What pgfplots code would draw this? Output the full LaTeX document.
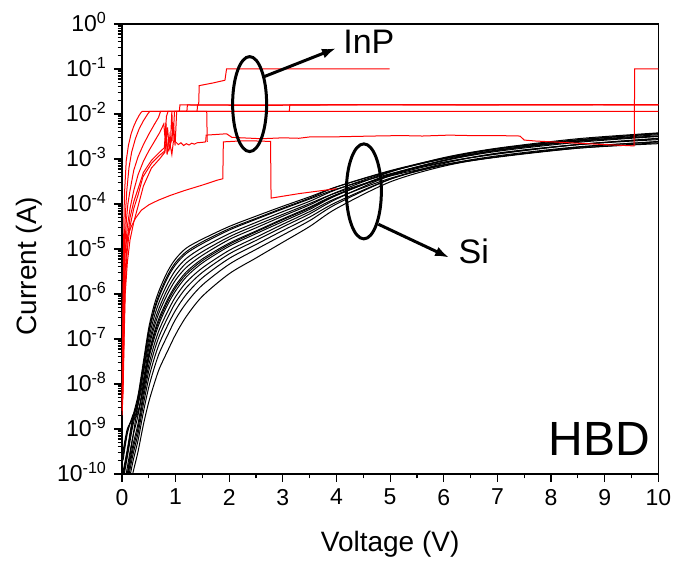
\documentclass[border=0pt]{standalone}
\usepackage{fontspec}
\setmainfont{Liberation Sans}
\usepackage{pgfplots}
\pgfplotsset{compat=1.18}
\usepackage{pgfplotstable}
\usetikzlibrary{arrows.meta}

% minor ticks of the log scale (y is log10 of the current)
\def\minorlist{}
\foreach \n in {-10,...,-1}{%
  \foreach \m in {0.30103,0.47712,0.60206,0.69897,0.77815,0.84510,0.90309,0.95424}{%
    \pgfmathsetmacro\v{\n+\m}%
    \ifx\minorlist\empty\xdef\minorlist{\v}\else\xdef\minorlist{\minorlist,\v}\fi
  }}

% Si diodes, log10(I/A)
\pgfplotstableread{
V    c1     c2     c3     c4     c5     c6     c7     c8     c9     c10    c11    c12    c13    c14
0.02 -9.95  -10.06 -10.16 -10.6  -9.7   -10.44 -9.6   -10.65 -10.76 -10.9  -11.07 -11.5  -10.02 -9.5
0.1  -9.45  -9.54  -9.62  -10.0  -9.1   -9.85  -9.05  -10.03 -10.12 -10.23 -10.37 -10.6  -9.51  -9.0
0.2  -8.75  -8.85  -8.94  -9.2   -8.7   -9.19  -8.75  -9.38  -9.48  -9.6   -9.75  -10.0  -8.81  -8.8
0.3  -8.25  -8.35  -8.44  -8.45  -8.45  -8.69  -8.6   -8.88  -8.98  -9.1   -9.25  -9.5   -8.31  -8.65
0.4  -7.5   -7.61  -7.71  -7.75  -7.9   -7.99  -8.1   -8.2   -8.31  -8.45  -8.62  -8.9   -7.57  -8.05
0.5  -6.75  -6.88  -7.0   -7.11  -7.21  -7.33  -7.44  -7.58  -7.71  -7.87  -8.07  -8.4   -6.83  -7.38
0.6  -6.25  -6.39  -6.51  -6.64  -6.74  -6.86  -6.99  -7.13  -7.27  -7.44  -7.65  -8.0   -6.34  -6.92
0.7  -5.9   -6.04  -6.16  -6.29  -6.39  -6.51  -6.64  -6.78  -6.92  -7.09  -7.3   -7.65  -5.99  -6.57
0.85 -5.5   -5.64  -5.77  -5.89  -6.0   -6.12  -6.24  -6.39  -6.53  -6.7   -6.92  -7.27  -5.59  -6.17
1.0  -5.22  -5.35  -5.47  -5.59  -5.69  -5.81  -5.93  -6.06  -6.19  -6.36  -6.56  -6.9   -5.30  -5.86
1.2  -4.98  -5.10  -5.21  -5.31  -5.41  -5.51  -5.62  -5.74  -5.86  -6.01  -6.2   -6.5   -5.06  -5.56
1.5  -4.78  -4.88  -4.97  -5.06  -5.14  -5.22  -5.31  -5.42  -5.52  -5.64  -5.8   -6.05  -4.84  -5.26
2.0  -4.5   -4.58  -4.66  -4.73  -4.79  -4.87  -4.94  -5.03  -5.11  -5.21  -5.34  -5.55  -4.55  -4.90
2.5  -4.27  -4.34  -4.41  -4.47  -4.53  -4.6   -4.66  -4.74  -4.81  -4.9   -5.01  -5.2   -4.32  -4.62
3.0  -4.05  -4.11  -4.17  -4.23  -4.27  -4.33  -4.39  -4.45  -4.51  -4.59  -4.69  -4.85  -4.09  -4.35
3.5  -3.84  -3.89  -3.94  -3.99  -4.02  -4.07  -4.12  -4.17  -4.22  -4.29  -4.37  -4.5   -3.87  -4.09
4.0  -3.62  -3.67  -3.68  -3.75  -3.74  -3.79  -3.81  -3.87  -3.89  -3.96  -4.0   -4.1   -3.62  -3.80
5    -3.27  -3.33  -3.28  -3.38  -3.29  -3.37  -3.35  -3.43  -3.37  -3.45  -3.45  -3.51  -3.26  -3.34
6    -3.0   -3.07  -2.99  -3.13  -2.97  -3.08  -3.04  -3.14  -3.03  -3.13  -3.10  -3.16  -2.98  -3.03
7    -2.81  -2.89  -2.78  -2.95  -2.76  -2.88  -2.83  -2.96  -2.80  -2.93  -2.87  -2.95  -2.77  -2.81
8.5  -2.6   -2.68  -2.58  -2.74  -2.55  -2.68  -2.63  -2.76  -2.60  -2.73  -2.68  -2.76  -2.57  -2.61
10   -2.46  -2.54  -2.44  -2.61  -2.42  -2.55  -2.50  -2.64  -2.49  -2.62  -2.57  -2.66  -2.43  -2.49
}\sidata

\begin{document}
\begin{tikzpicture}
\useasboundingbox (-61pt,-44pt) rectangle (275.55pt,237pt);
\begin{axis}[
  at={(0,0)}, anchor=south west,
  scale only axis, width=268.2pt, height=225pt,
  xmin=0, xmax=10, ymin=-10, ymax=0,
  xtick={0,...,10}, minor x tick num=1,
  ytick={-10,...,0},
  yticklabels={10\textsuperscript{-10},10\textsuperscript{-9},10\textsuperscript{-8},10\textsuperscript{-7},10\textsuperscript{-6},10\textsuperscript{-5},10\textsuperscript{-4},10\textsuperscript{-3},10\textsuperscript{-2},10\textsuperscript{-1},10\textsuperscript{0}},
  minor ytick/.expanded=\minorlist,
  tick pos=left, tick align=outside,
  major tick length=4pt, minor tick length=2.2pt,
  every tick/.style={black, line width=0.6pt},
  axis line style={line width=0.75pt},
  /pgf/number format/assume math mode=true,
  ticklabel style={font=\fontsize{11.5}{13}\selectfont},
  yticklabel style={anchor=base east, yshift=-4pt},
  xlabel={Voltage (V)}, ylabel={Current (A)},
  label style={font=\fontsize{14}{17}\selectfont},
  xlabel style={at={(axis description cs:0.5,0)}, anchor=base, yshift=-38.85pt},
  ylabel style={at={(axis description cs:-0.173,0.462)}, anchor=center},
  every axis plot/.append style={line width=0.5pt},
]
% Si curves
\foreach \c in {c1,c2,c3,c4,c5,c6,c7,c8,c9,c10,c11,c12,c13,c14}{
  \addplot[black, smooth, tension=0.5] table[x=V, y=\c] {\sidata};
}
% InP curves
\addplot[red] coordinates {(0,-8.3)(0.01,-7.5)(0.02,-6.2)(0.03,-4.9)(0.04,-4.1)(0.05,-3.7)(0.08,-3.03)(0.12,-2.7)(0.17,-2.44)(0.22,-2.27)(0.27,-2.14)(0.32,-2.03)(0.36,-1.96)(0.38,-1.94)(10,-1.94)};
\addplot[red] coordinates {(0,-8.0)(0.01,-7.6)(0.02,-6.6)(0.03,-5.6)(0.05,-4.6)(0.07,-4.1)(0.09,-3.7)(0.13,-3.2)(0.18,-2.85)(0.25,-2.55)(0.32,-2.33)(0.4,-2.15)(0.48,-2.0)(0.52,-1.94)(3.12,-1.94)(3.13,-1.80)(4.5,-1.79)(6,-1.80)(8,-1.79)(10,-1.80)};
\addplot[red] coordinates {(0,-8.4)(0.01,-8.0)(0.02,-7.0)(0.03,-6.0)(0.05,-5.0)(0.08,-4.4)(0.11,-4.0)(0.15,-3.7)(0.22,-3.25)(0.3,-2.95)(0.4,-2.68)(0.5,-2.45)(0.6,-2.24)(0.68,-2.08)(0.72,-1.94)(1.07,-1.94)(1.08,-1.80)(1.43,-1.80)(1.44,-1.37)(1.7,-1.31)(1.92,-1.25)(1.95,-1.0)(4.99,-1.0)};
\addplot[red] coordinates {(0,-8.5)(0.02,-7.5)(0.04,-6.0)(0.06,-5.1)(0.1,-4.5)(0.15,-4.1)(0.22,-3.7)(0.3,-3.35)(0.4,-3.05)(0.5,-2.82)(0.6,-2.62)(0.7,-2.42)(0.78,-2.22)(0.8,-2.5)(0.83,-2.05)(0.86,-1.94)(1.21,-1.94)(1.22,-1.80)(2.5,-1.81)(5,-1.79)(7.5,-1.80)(10,-1.79)};
\addplot[red] coordinates {(0,-8.6)(0.02,-7.8)(0.04,-6.5)(0.06,-5.5)(0.1,-4.8)(0.15,-4.3)(0.22,-3.95)(0.29,-3.7)(0.4,-3.3)(0.55,-3.03)(0.7,-2.85)(0.79,-2.75)(0.82,-2.2)(0.84,-2.9)(0.88,-2.5)(0.9,-2.75)(0.93,-1.94)(0.95,-2.6)(0.98,-1.94)(1.40,-1.94)(1.41,-1.80)(10,-1.80)};
\addplot[red] coordinates {(0,-8.6)(0.02,-8.0)(0.04,-6.8)(0.06,-5.8)(0.1,-5.0)(0.15,-4.5)(0.22,-4.1)(0.3,-3.8)(0.39,-3.4)(0.55,-3.1)(0.7,-2.92)(0.8,-2.82)(0.82,-2.3)(0.85,-2.85)(0.9,-2.7)(0.93,-2.9)(0.96,-2.6)(1.0,-2.62)(1.05,-2.68)(1.1,-2.64)(1.15,-2.7)(1.2,-2.66)(1.25,-2.69)(1.3,-2.65)(1.35,-2.67)(1.4,-2.64)(1.5,-2.63)(1.56,-2.62)(1.57,-2.47)(1.95,-2.44)(2.05,-2.52)(2.6,-2.55)(3.0,-2.53)(3.3,-2.54)(3.5,-2.51)(3.9,-2.51)(4.3,-2.50)(4.7,-2.49)(5.2,-2.48)(5.6,-2.49)(6.1,-2.47)(6.5,-2.48)(7.0,-2.48)(7.42,-2.49)(7.5,-2.58)(7.7,-2.60)(8.5,-2.65)(9.0,-2.68)(9.55,-2.71)(9.56,-1.0)(10,-1.0)};
\addplot[red] coordinates {(0,-8.7)(0.02,-8.2)(0.04,-7.0)(0.06,-6.0)(0.1,-5.3)(0.15,-4.8)(0.22,-4.4)(0.3,-4.05)(0.4,-3.6)(0.55,-3.2)(0.7,-3.0)(0.8,-2.85)(0.85,-2.3)(0.88,-2.78)(0.92,-2.6)(0.96,-2.2)(0.99,-2.7)(1.02,-1.94)(1.58,-1.94)(1.59,-2.62)};
\addplot[red] coordinates {(0,-8.6)(0.01,-8.0)(0.02,-6.5)(0.03,-5.4)(0.05,-5.03)(0.1,-4.73)(0.17,-4.51)(0.25,-4.32)(0.36,-4.14)(0.5,-4.02)(0.67,-3.92)(0.9,-3.81)(1.17,-3.70)(1.5,-3.58)(1.78,-3.47)(1.88,-3.44)(1.89,-2.62)(2.2,-2.60)(2.5,-2.60)(2.77,-2.61)(2.78,-3.87)(3.3,-3.77)(4.0,-3.66)};
% annotations
\draw[line width=1.5pt] (axis cs:2.38,-1.78) ellipse [x radius=8.5pt, y radius=23.75pt];
\draw[line width=1.5pt, -{Latex[length=7pt,width=5pt]}] (axis cs:2.63,-1.18) -- (axis cs:3.99,-0.54);
\node[anchor=base west, inner sep=0pt, font=\fontsize{17}{20}\selectfont] at (axis cs:4.12,-0.65) {InP};
\draw[line width=1.5pt] (axis cs:4.51,-3.72) ellipse [x radius=8.75pt, y radius=23.75pt];
\draw[line width=1.5pt, -{Latex[length=7pt,width=5pt]}] (axis cs:4.78,-4.45) -- (axis cs:6.10,-5.19);
\node[anchor=base west, inner sep=0pt, font=\fontsize{17}{20}\selectfont] at (axis cs:6.27,-5.32) {Si};
\node[anchor=base east, inner sep=0pt, font=\fontsize{24}{28}\selectfont] at (axis cs:9.85,-9.58) {HBD};
\end{axis}
\end{tikzpicture}
\end{document}
